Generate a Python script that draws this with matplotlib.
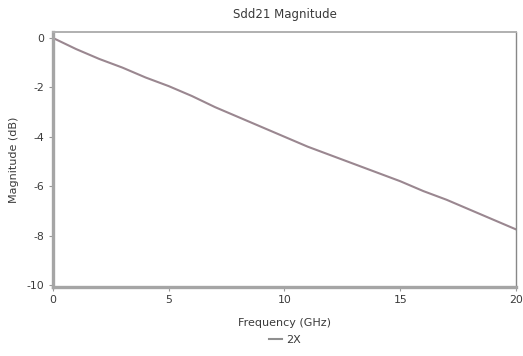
import matplotlib
matplotlib.use("Agg")
import matplotlib.pyplot as plt

# Sdd21 insertion loss of the 2X thru, 0-20 GHz
freq_ghz = [0, 1, 2, 3, 4, 5, 6, 7, 8, 9, 10, 11, 12, 13, 14, 15, 16, 17, 18, 19, 20]
sdd21_db = [0.0, -0.45, -0.85, -1.2, -1.6, -1.95, -2.35, -2.8, -3.2, -3.6, -4.0,
            -4.4, -4.75, -5.1, -5.45, -5.8, -6.2, -6.55, -6.95, -7.35, -7.75]
series_name = "2X"
x_ticks = [0, 5, 10, 15, 20]
y_ticks = [0, -2, -4, -6, -8, -10]

plt.rcParams["font.family"] = ["DejaVu Sans"]
text_color = "#3a3a3a"

fig = plt.figure(figsize=(5.23, 3.56), dpi=100)
ax = fig.add_axes([0.1013, 0.194, 0.8853, 0.716])

line, = ax.plot(freq_ghz, sdd21_db, color="#9a8790", linewidth=1.5, label=series_name)

ax.set_xlim(0, 20)
ax.set_ylim(-10.08, 0.24)
ax.set_xticks(x_ticks)
ax.set_yticks(y_ticks)
ax.set_xticklabels([str(v) for v in x_ticks])
ax.set_yticklabels([str(v) for v in y_ticks])
ax.tick_params(axis="both", labelsize=7.8, colors=text_color, length=3, width=0.8,
               direction="out", pad=3)
ax.tick_params(axis="both", color="#999999")

for side in ("left", "bottom"):
    ax.spines[side].set_color("#a5a5a5")
    ax.spines[side].set_linewidth(2.4)
ax.spines["top"].set_color("#b0b0b0")
ax.spines["top"].set_linewidth(1.4)
ax.spines["right"].set_color("#888888")
ax.spines["right"].set_linewidth(1.0)

ax.set_title("Sdd21 Magnitude", fontsize=8.5, color=text_color, pad=10)
ax.set_xlabel("Frequency (GHz)", fontsize=8, color=text_color, labelpad=9)
ax.set_ylabel("Magnitude (dB)", fontsize=8, color=text_color, labelpad=6)

fig.legend(handles=[line], loc="center", bbox_to_anchor=(0.5443, 0.045),
           frameon=False, fontsize=8, handlelength=1.2, handletextpad=0.3,
           labelcolor=text_color)
leg = fig.legends[0]
leg.legend_handles[0].set_color("#8f8f8f")

fig.savefig("out.png", dpi=100)
